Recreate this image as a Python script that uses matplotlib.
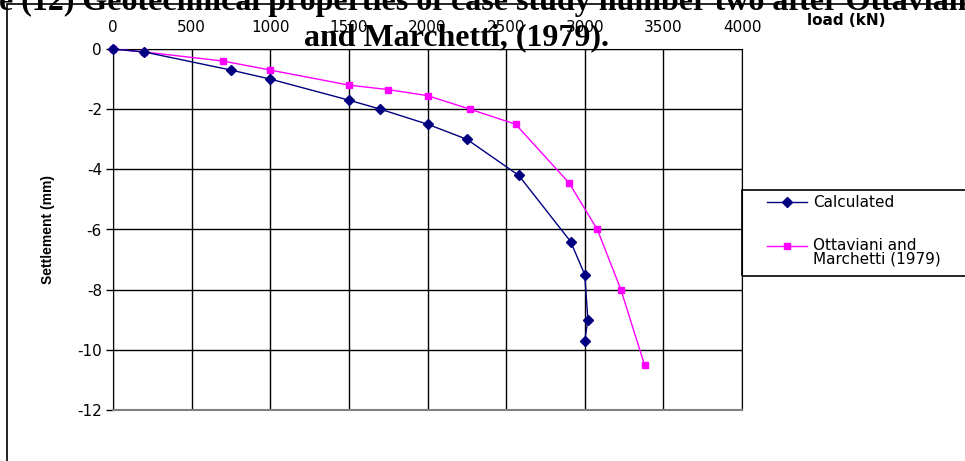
import matplotlib.pyplot as plt
from matplotlib.patches import Rectangle
from matplotlib.legend_handler import HandlerLine2D

plt.rcParams['font.family'] = ['DejaVu Sans']
plt.rcParams['axes.unicode_minus'] = False

# load (kN) vs settlement (mm)
load_calc = [0, 200, 750, 1000, 1500, 1700, 2000, 2250, 2580, 2910, 3000, 3020, 3000]
settle_calc = [0, -0.1, -0.7, -1.0, -1.7, -2.0, -2.5, -3.0, -4.2, -6.4, -7.5, -9.0, -9.7]

load_ott = [0, 200, 700, 1000, 1500, 1750, 2000, 2270, 2560, 2900, 3080, 3230, 3380]
settle_ott = [0, -0.1, -0.4, -0.7, -1.2, -1.35, -1.55, -2.0, -2.5, -4.45, -6.0, -8.0, -10.5]

x_ticks = [0, 500, 1000, 1500, 2000, 2500, 3000, 3500, 4000]
y_ticks = [0, -2, -4, -6, -8, -10, -12]


class FirstLineHandler(HandlerLine2D):
    # put the legend handle next to the first line of a two-line label
    def __init__(self, dy=0, **kw):
        super().__init__(**kw)
        self.dy = dy

    def create_artists(self, legend, orig_handle, xdescent, ydescent, width, height,
                       fontsize, trans):
        return super().create_artists(legend, orig_handle, xdescent, ydescent - 2 * self.dy,
                                      width, height, fontsize, trans)


W, H = 965, 461
fig = plt.figure(figsize=(W / 100, H / 100), dpi=100)

# outer chart border (runs off the right and bottom edges)
fig.patches.append(Rectangle((7 / W, -0.1), 2, 1.1 - 4 / H, transform=fig.transFigure,
                             fill=False, edgecolor='black', lw=1.2))

ax = fig.add_axes([113 / W, 1 - 410 / H, 629 / W, 361 / H])

l1, = ax.plot(load_calc, settle_calc, color='#000080', lw=1, marker='D', markersize=5.5,
              label='Calculated', clip_on=False, zorder=4)
l2, = ax.plot(load_ott, settle_ott, color='#FF00FF', lw=1, marker='s', markersize=4.8,
              label='Ottaviani and\nMarchetti (1979)', clip_on=False, zorder=3)

ax.set_xlim(0, 4000)
ax.set_ylim(-12, 0)
ax.set_xticks(x_ticks)
ax.set_yticks(y_ticks)
ax.xaxis.tick_top()
ax.tick_params(axis='x', length=0, pad=10, labelsize=11)
ax.tick_params(axis='y', length=5, width=1, pad=3, labelsize=11)
ax.grid(True, color='black', lw=1)
for s in ax.spines.values():
    s.set_color('black')
ax.spines['bottom'].set_color('#808080')
ax.spines['bottom'].set_linewidth(1.5)

ax.set_ylabel('Settlement (mm)', fontsize=10, fontweight='bold', family='Liberation Sans')
ax.yaxis.set_label_coords(-0.092, 0.5)
ax.xaxis.set_label_position('top')
ax.set_xlabel('load (kN)', fontsize=11, fontweight='bold', va='center')
ax.xaxis.set_label_coords((846 - 113) / 629, (410 - 20) / 361)

leg = ax.legend(loc='upper left', bbox_to_anchor=(767 / W, 1 - 195 / H),
                bbox_transform=fig.transFigure, frameon=False, fontsize=11,
                borderpad=0, borderaxespad=0, handlelength=2.6, handletextpad=0.4,
                labelspacing=1.83, handler_map={l2: FirstLineHandler(dy=5)})
for t in leg.get_texts():
    t.set_linespacing(0.9)
fig.patches.append(Rectangle((742 / W, 1 - 276 / H), 1, 86 / H, transform=fig.transFigure,
                             fill=False, edgecolor='black', lw=1.2, zorder=5))

# document caption overlapping the chart
cap = dict(family='Liberation Serif', fontweight='bold', fontsize=23, ha='center', va='baseline')
fig.text(457 / W, 1 - 10 / H,
         'Table (12) Geotechnical properties of case study number two after Ottaviani', **cap)
fig.text(457 / W, 1 - 45 / H, 'and Marchetti, (1979).', **cap)

fig.savefig('out.png', dpi=100)
